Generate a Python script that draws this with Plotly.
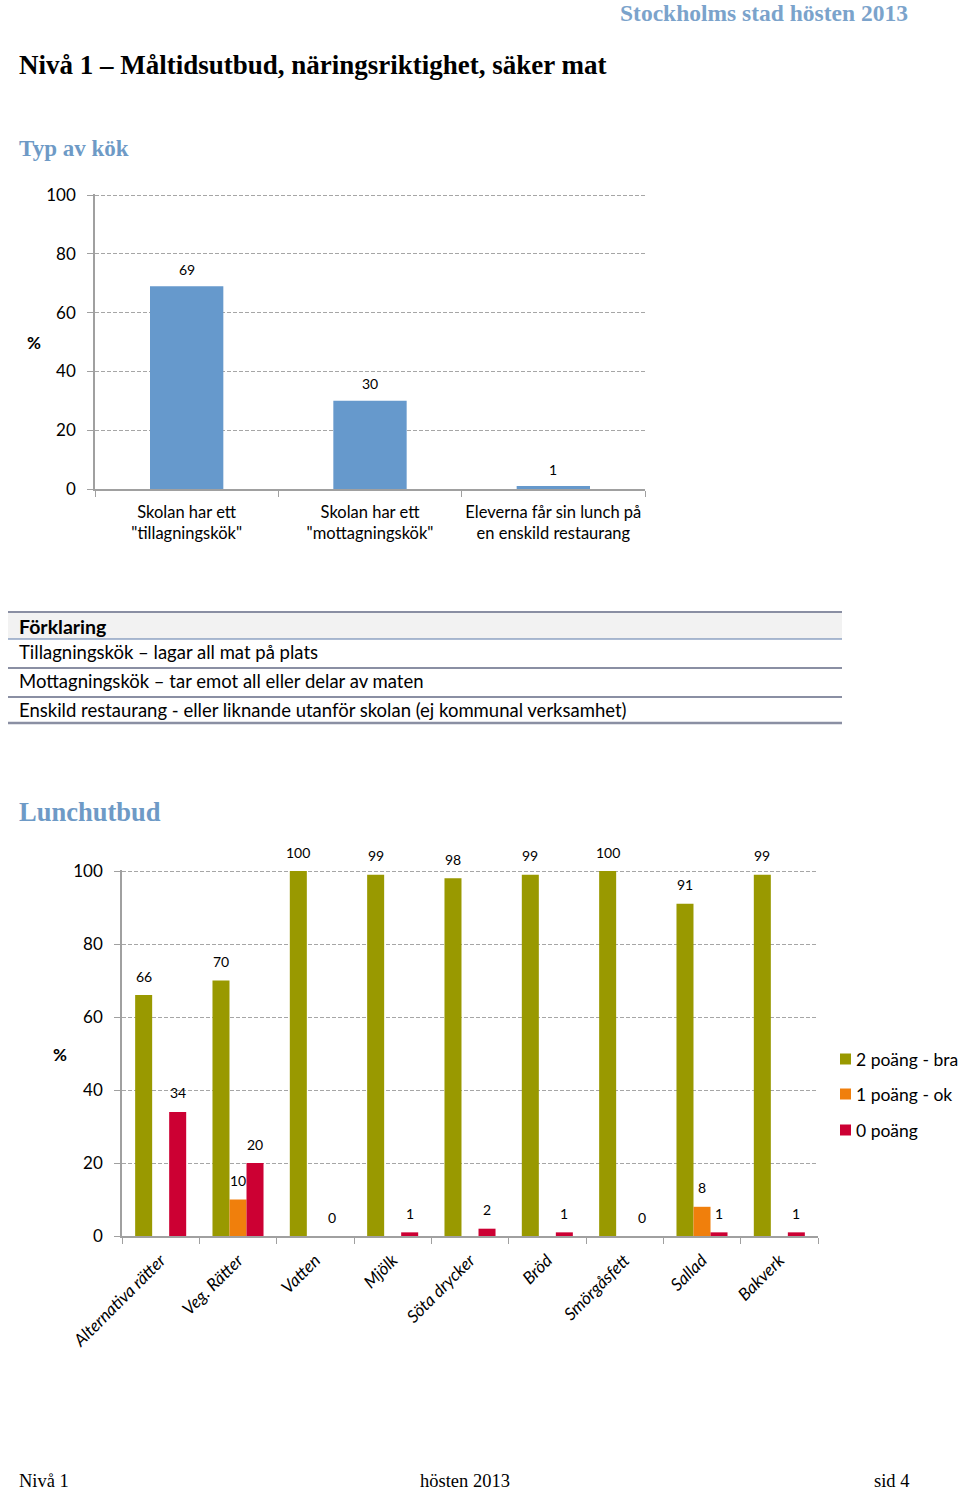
import plotly.graph_objects as go

# ---------------- data ----------------
kok_categories = ['Skolan har ett<br>"tillagningskök"',
                  'Skolan har ett<br>"mottagningskök"',
                  'Eleverna får sin lunch på<br>en enskild restaurang']
kok_values = [69, 30, 1]

lunch_categories = ["Alternativa rätter", "Veg. Rätter", "Vatten", "Mjölk",
                    "Söta drycker", "Bröd", "Smörgåsfett", "Sallad", "Bakverk"]
series_names = ["2 poäng - bra", "1 poäng - ok", "0 poäng"]
poang2 = [66, 70, 100, 99, 98, 99, 100, 91, 99]
poang1 = [None, 10, None, None, None, None, None, 8, None]
poang0 = [34, 20, 0, 1, 2, 1, 0, 1, 1]

y_ticks = [0, 20, 40, 60, 80, 100]

table_header = "Förklaring"
table_rows = ["Tillagningskök – lagar all mat på plats",
              "Mottagningskök – tar emot all eller delar av maten",
              "Enskild restaurang - eller liknande utanför skolan (ej kommunal verksamhet)"]

# ---------------- helpers ----------------
W, H = 960, 1493
def px(x): return x / W
def py(y): return 1 - y / H

SANS = "Lato"
SERIF = "Liberation Serif"
GRID = "#A6A6A6"
AXIS = "#A0A0A0"
COLORS = ["#999900", "#F07F0C", "#CC0033"]
YMAX = 100.4  # a hair above 100 so the 100 gridline is drawn

fig = go.Figure()

fig.add_trace(go.Bar(x=kok_categories, y=kok_values, width=0.4,
                     marker=dict(color="#6699CC", line=dict(width=0)),
                     xaxis="x", yaxis="y", showlegend=False, hoverinfo="skip"))

for name, vals, col in zip(series_names, [poang2, poang1, poang0], COLORS):
    fig.add_trace(go.Bar(x=lunch_categories, y=vals, name=name,
                         marker=dict(color=col, line=dict(width=0)),
                         xaxis="x2", yaxis="y2", showlegend=False,
                         hoverinfo="skip"))

annotations = []
shapes = []
# value labels top chart
for c, v in zip(kok_categories, kok_values):
    annotations.append(dict(x=c, y=v, xref="x", yref="y", text=str(v),
                            showarrow=False, yshift=17,
                            font=dict(family=SANS, size=14, color="#000")))
# value labels bottom chart
step = 696 / 9 * 0.66 / 3
for i, vals in enumerate([poang2, poang1, poang0]):
    for c, v in zip(lunch_categories, vals):
        if v is None:
            continue
        annotations.append(dict(x=c, y=v, xref="x2", yref="y2", text=str(v),
                                showarrow=False, yshift=19, xshift=(i - 1) * step,
                                font=dict(family=SANS, size=14, color="#000")))

def txt(x, y, s, size, family=SANS, color="#000", xanchor="left", bold=False):
    if bold:
        s = "<b>" + s + "</b>"
    annotations.append(dict(x=px(x), y=py(y), xref="paper", yref="paper", text=s,
                            showarrow=False, xanchor=xanchor, yanchor="middle",
                            xshift=0, font=dict(family=family, size=size, color=color)))

BLUE_H = "#7BA3CB"
txt(910, 13, "Stockholms stad hösten 2013", 23.5, SERIF, BLUE_H, "right", True)
txt(17, 65, "Nivå 1 – Måltidsutbud, näringsriktighet, säker mat", 27, SERIF, "#000", "left", True)
txt(17, 148, "Typ av kök", 23, SERIF, "#6E9AC6", "left", True)
txt(17, 812, "Lunchutbud", 26.5, SERIF, "#6E9AC6", "left", True)
txt(25, 343, "%", 17, bold=True)
txt(51, 1054, "%", 17, bold=True)

txt(17, 626, table_header, 19.5, SANS, "#000", "left", True)
for y, s in zip([652, 681, 710], table_rows):
    txt(17, y, s, 18.5, SANS, "#000")

txt(17, 1481, "Nivå 1", 18.5, SERIF)
txt(465, 1481, "hösten 2013", 18.5, SERIF, "#000", "center")
txt(911, 1481, "sid 4", 18.5, SERIF, "#000", "right")

# legend (drawn manually so it may be clipped by the page edge like the original)
for name, col, y in zip(series_names, COLORS, [1059, 1094, 1130]):
    shapes.append(dict(type="rect", xref="paper", yref="paper", x0=px(840), x1=px(851),
                       y0=py(y + 5.5), y1=py(y - 5.5), fillcolor=col, line=dict(width=0)))
    txt(854, y, name, 17.5, SANS)

shapes += [
    dict(type="rect", xref="paper", yref="paper", x0=px(8), x1=px(842),
         y0=py(612), y1=py(639), fillcolor="#F2F2F2", line=dict(width=0), layer="below"),
    dict(type="line", xref="paper", yref="paper", x0=px(8), x1=px(842),
         y0=py(612), y1=py(612), line=dict(color="#8A8FA3", width=2)),
    dict(type="line", xref="paper", yref="paper", x0=px(8), x1=px(842),
         y0=py(639), y1=py(639), line=dict(color="#5A78A8", width=1)),
    dict(type="line", xref="paper", yref="paper", x0=px(8), x1=px(842),
         y0=py(668), y1=py(668), line=dict(color="#8A8FA3", width=2)),
    dict(type="line", xref="paper", yref="paper", x0=px(8), x1=px(842),
         y0=py(697), y1=py(697), line=dict(color="#8A8FA3", width=2)),
    dict(type="line", xref="paper", yref="paper", x0=px(8), x1=px(842),
         y0=py(723), y1=py(723), line=dict(color="#8A8FA3", width=2.5)),
]

yaxis_common = dict(range=[0, YMAX], tickvals=y_ticks, showgrid=True, gridcolor=GRID,
                    griddash="4px,2px", gridwidth=1, zeroline=False, showline=True,
                    linecolor=AXIS, linewidth=1.5, ticks="outside", ticklen=6,
                    tickcolor=AXIS, ticklabelstandoff=8, automargin=False,
                    tickfont=dict(family=SANS, size=17, color="#000"), fixedrange=True)
xaxis_common = dict(showgrid=False, showline=True, linecolor=AXIS, linewidth=1.5,
                    ticks="outside", ticklen=6, tickcolor=AXIS, tickson="boundaries",
                    automargin=False, fixedrange=True)

top_px = 489 - (489 - 195) * YMAX / 100
bot_px = 1236 - (1236 - 871) * YMAX / 100

fig.update_layout(
    width=W, height=H, margin=dict(l=0, r=0, t=0, b=0, autoexpand=False),
    paper_bgcolor="white", plot_bgcolor="white",
    barmode="group", bargap=0.34, bargroupgap=0,
    xaxis=dict(domain=[px(95), px(645)], anchor="y", tickangle=0, ticklabelstandoff=7,
               tickfont=dict(family=SANS, size=16.5, color="#000"), **xaxis_common),
    yaxis=dict(domain=[py(489), py(top_px)], anchor="x", **yaxis_common),
    xaxis2=dict(domain=[px(122), px(818)], anchor="y2", tickangle=-45, ticklabelstandoff=6,
                tickfont=dict(family=SANS, size=17, color="#000", style="italic"),
                **xaxis_common),
    yaxis2=dict(domain=[py(1236), py(bot_px)], anchor="x2", **yaxis_common),
    annotations=annotations, shapes=shapes, showlegend=False,
)

fig.write_html("out.html", config={"displayModeBar": False},
               post_script="document.body.style.margin='0';document.body.style.overflow='hidden';")
